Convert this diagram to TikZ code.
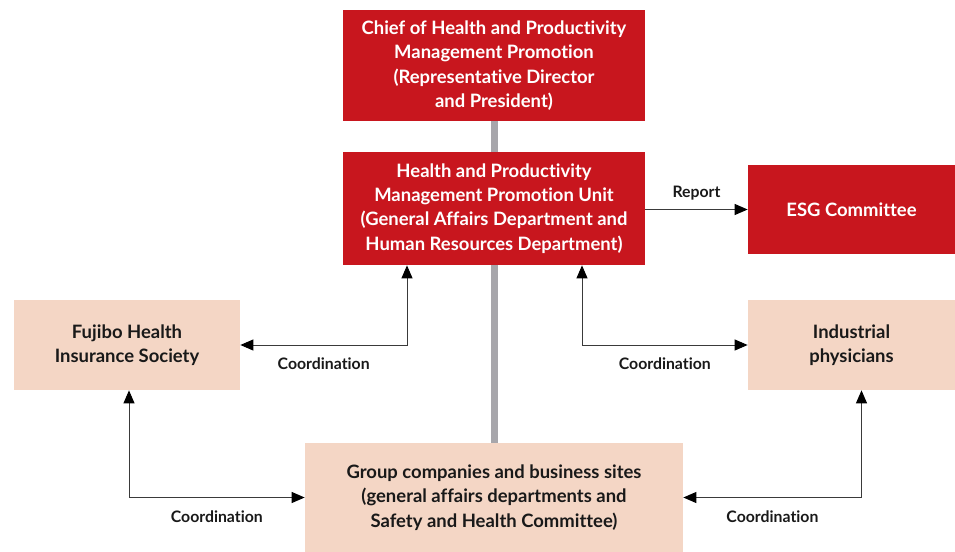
\documentclass[tikz,border=0pt]{standalone}
\usepackage{fontspec}
\setmainfont{Lato}[Ligatures={NoCommon}]
\usetikzlibrary{arrows.meta, positioning, calc, backgrounds}

\definecolor{fujired}{HTML}{C8161E}
\definecolor{fujipeach}{HTML}{F4D6C5}
\definecolor{bargray}{HTML}{A7A6AB}
\definecolor{linegray}{HTML}{3A3A3A}

\begin{document}
\begin{tikzpicture}[x=0.2mm, y=-0.2mm,
    redbox/.style={rectangle, fill=fujired, text=white, font=\bfseries\fontsize{10.5}{13.8}\selectfont, align=center, inner sep=0pt},
    peachbox/.style={rectangle, fill=fujipeach, text=black!90, font=\bfseries\fontsize{10.5}{13.8}\selectfont, align=center, inner sep=0pt},
    link/.style={draw=linegray, line width=0.55pt, {Triangle[length=2.6mm, width=2.2mm, black]}-{Triangle[length=2.6mm, width=2.2mm, black]}},
    tag/.style={font=\bfseries\fontsize{9}{10}\selectfont, text=black!90, inner sep=2pt}]
    \useasboundingbox (0,0) rectangle (955,552);

    % Management line boxes
    \node[redbox, minimum width=60.4mm, minimum height=22.2mm] (chief) at (494,65.5)
        {Chief of Health and Productivity\\Management Promotion\\(Representative Director\\and President)};
    \node[redbox, minimum width=60.4mm, minimum height=22.6mm] (unit) at (494,208.5)
        {Health and Productivity\\Management Promotion Unit\\(General Affairs Department and\\Human Resources Department)};
    \node[redbox, minimum width=41.4mm, minimum height=17.8mm] (esg) at (851.5,209.5) {ESG Committee};

    % Partner boxes
    \node[peachbox, minimum width=45.2mm, minimum height=18mm] (fujibo) at (127,345)
        {Fujibo Health\\Insurance Society};
    \node[peachbox, minimum width=41.4mm, minimum height=18mm] (phys) at (851.5,345)
        {Industrial\\physicians};
    \node[peachbox, minimum width=75.6mm, minimum height=21.8mm] (group) at (494,497.5)
        {Group companies and business sites\\(general affairs departments and\\Safety and Health Committee)};

    % Vertical spine behind the boxes
    \begin{scope}[on background layer]
        \draw[bargray, line width=1.4mm] (chief.south) -- (group.north);
    \end{scope}

    % Reporting and coordination links
    \draw[draw=linegray, line width=0.55pt, -{Triangle[length=2.6mm, width=2.2mm, black]}]
        (unit.east |- esg.west) -- (esg.west) node[tag, midway, above=3pt] {Report};
    \draw[link] (fujibo.east) -| ($(unit.south)+(-87,0)$) node[tag, pos=0.25, below=5pt] {Coordination};
    \draw[link] (phys.west) -| ($(unit.south)+(88,0)$) node[tag, pos=0.25, below=5pt] {Coordination};
    \draw[link] (group.west) -| ($(fujibo.south)+(2,0)$) node[tag, pos=0.25, below=5pt] {Coordination};
    \draw[link] (group.east) -| ($(phys.south)+(10,0)$) node[tag, pos=0.25, below=5pt] {Coordination};
\end{tikzpicture}
\end{document}
